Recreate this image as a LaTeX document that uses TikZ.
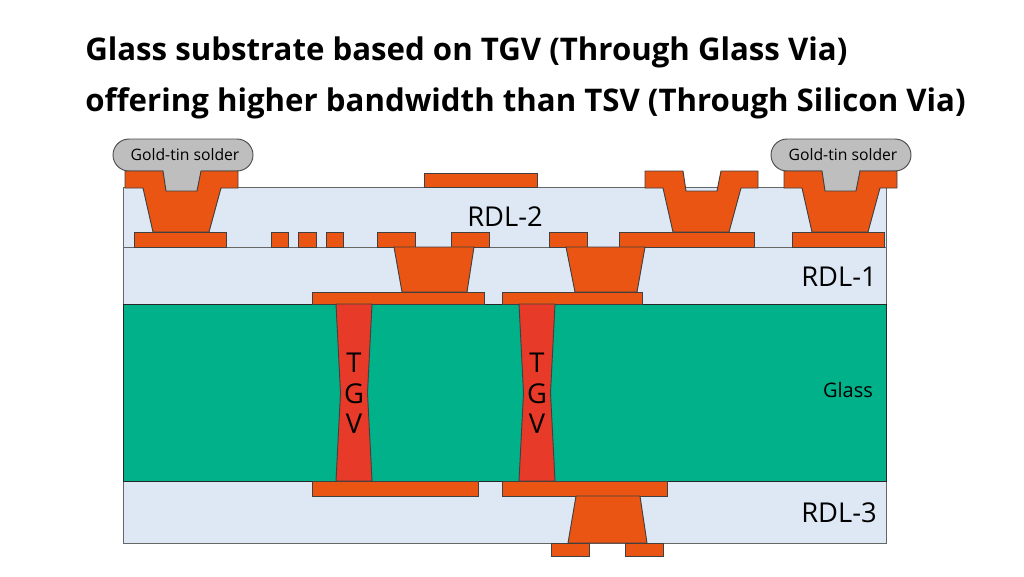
\documentclass[tikz,border=0pt]{standalone}
\usepackage{fontspec}
\setmainfont{Open Sans}
\usepackage{tikz}
\usetikzlibrary{positioning, calc}
\definecolor{copper}{HTML}{EA5513}
\definecolor{viared}{HTML}{E83A28}
\definecolor{glassgreen}{HTML}{00B189}
\definecolor{layerblue}{HTML}{DEE8F5}
\definecolor{soldergray}{HTML}{BEBEBE}
\begin{document}
\begin{tikzpicture}[x=0.75pt,y=-0.75pt,
  layer/.style={draw=black!60,line width=0.7pt,fill=layerblue},
  metal/.style={draw=black!75,line width=0.7pt,fill=copper},
  tgv/.style={draw=black!75,line width=0.7pt,fill=viared},
  solder/.style={draw=black!70,line width=0.7pt,fill=soldergray,rounded corners=12pt},
  title/.style={anchor=base west,font=\fontsize{23.4}{28}\selectfont\bfseries,inner sep=0pt},
  rdl/.style={anchor=base,font=\fontsize{20.5}{24}\selectfont,inner sep=0pt},
  small/.style={font=\fontsize{11.8}{14}\selectfont,inner sep=0pt}]
\useasboundingbox (0,0) rectangle (1024,576);
\node[title] (titleA) at (85,60) {Glass substrate based on TGV (Through Glass Via)};
\node[title] (titleB) at (85,111) {offering higher bandwidth than TSV (Through Silicon Via)};
\draw[layer] (123,187) rectangle (886,247);
\draw[layer] (123,247) rectangle (886,304);
\draw[layer] (123,481) rectangle (886,543);
\draw[draw=black!85,line width=0.7pt,fill=glassgreen] (123,304) rectangle (886,481);
\foreach \x in {113, 771} {
\draw[solder] (\x,139) rectangle (\x+140,171);
}
\fill[soldergray] (163,165) rectangle (201,192);
\fill[soldergray] (822,165) rectangle (859,192);
\foreach \x in {0, 520, 659} {
\draw[metal] (\x+125,171) -- (\x+163,171) -- (\x+166,191) -- (\x+197,191) -- (\x+201,171)
  -- (\x+238,171) -- (\x+238,188) -- (\x+221,188) -- (\x+209,232) -- (\x+153,232)
  -- (\x+143,188) -- (\x+125,188) -- cycle;
}
\foreach \a / \b in {134/226, 271/288, 298/316, 326/343, 377/415,
  451/489, 549/587, 619/754, 792/884} {
\draw[metal] (\a,232) rectangle (\b,247);
}
\draw[metal] (424,173) rectangle (537,187);
\draw[metal] (394,247) -- (474,247) -- (467,292) -- (402,292) -- cycle;
\draw[metal] (566,247) -- (645,247) -- (637,292) -- (575,292) -- cycle;
\foreach \a / \b in {312/484, 502/642} {
\draw[metal] (\a,292) rectangle (\b,304);
}
\foreach \a / \b in {312/478, 502/667} {
\draw[metal] (\a,481) rectangle (\b,496);
}
\draw[metal] (576,496) -- (640,496) -- (647,543) -- (568,543) -- cycle;
\foreach \a / \b in {551/589, 625/663} {
\draw[metal] (\a,543) rectangle (\b,556);
}
\foreach \x in {336, 519} {
\draw[tgv] (\x,304) -- (\x+36,304) -- (\x+31.5,393) -- (\x+36,481) -- (\x,481) -- (\x+4.5,393) -- cycle;
}
\node[small] (solderA) at (185,155) {Gold-tin solder};
\node[small] (solderB) at (843,155) {Gold-tin solder};
\node[rdl] (rdlB) at (505,226) {RDL-2};
\node[rdl] (rdlA) at (839,286) {RDL-1};
\node[rdl] (rdlC) at (839,522) {RDL-3};
\node[font=\fontsize{15}{18}\selectfont,inner sep=0pt] (glass) at (848,390) {Glass};
\foreach \x / \n in {354/A, 537/B} {
\node[rdl] (T\n) at (\x,372) {T};
\node[rdl] (G\n) at (\x,403) {G};
\node[rdl] (V\n) at (\x,433) {V};
}
\end{tikzpicture}
\end{document}
